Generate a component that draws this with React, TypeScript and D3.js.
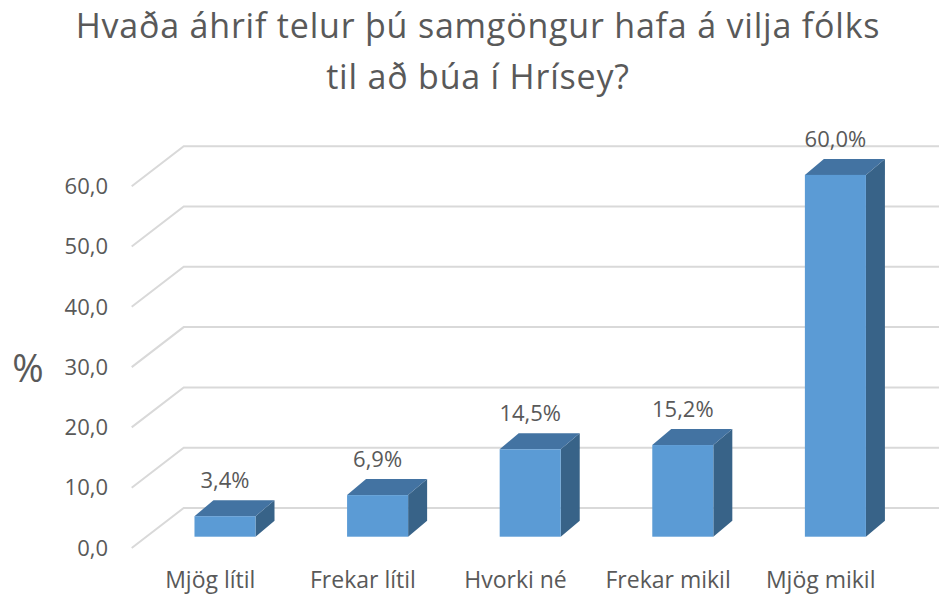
import React from 'react';
import * as d3 from 'd3';

// svör úr könnun, hlutfall í prósentum
const categories = ['Mjög lítil', 'Frekar lítil', 'Hvorki né', 'Frekar mikil', 'Mjög mikil'];
const values = [3.4, 6.9, 14.5, 15.2, 60.0];
const ticks = [0, 10, 20, 30, 40, 50, 60];
const titleLines = ['Hvaða áhrif telur þú samgöngur hafa á vilja fólks', 'til að búa í Hrísey?'];

const W = 939, H = 595;
const TXT = '#595959';
const FONT = "'Open Sans', sans-serif";

// gólf og veggur (gervi-3D)
const floorFront = 548;     // y á framlínu fyrir 0
const plotLeft = 131.7;
const wallDx = 52, wallDy = -40;   // dýpt grindar
const barDx = 19, barDy = -16;     // dýpt súlu
const barShiftX = 14.7, barShiftY = -11.3; // hvar framhlið súlu situr í dýpt

export default function App() {
  const y = d3.scaleLinear().domain([0, 60]).range([floorFront, floorFront - 361.8]);
  const x = d3.scaleBand().domain(categories).range([134, 897]).paddingInner(0.6).paddingOuter(0.3);
  const bw = x.bandwidth();
  const fmt = (v: number) => d3.format('.1f')(v).replace('.', ',');

  return (
    <svg width={W} height={H} style={{ position: 'absolute', left: 0, top: 0, background: '#fff' }}>
      {titleLines.map((t, i) => (
        <text key={t} x={478} y={38 + i * 51} textAnchor="middle" fontFamily={FONT} fontSize={34} letterSpacing={0.8} fill={TXT}>{t}</text>
      ))}

      <text x={28} y={382} textAnchor="middle" fontFamily={FONT} fontSize={38} fill={TXT}>%</text>

      {/* grindarlínur */}
      {ticks.map(t => (
        <g key={t}>
          <path
            d={`M${plotLeft},${y(t)} L${plotLeft + wallDx},${y(t) + wallDy} L${W},${y(t) + wallDy}`}
            fill="none" stroke="#d9d9d9" strokeWidth={2} />
          <text x={108} y={y(t)} dy="0.35em" textAnchor="end" fontFamily={FONT} fontSize={22} fill={TXT}>{fmt(t)}</text>
        </g>
      ))}

      {/* súlur */}
      {categories.map((c, i) => {
        const v = values[i];
        const x0 = (x(c) as number) + barShiftX;
        const x1 = x0 + bw;
        const yb = floorFront + barShiftY;
        const yt = yb - (y(0) - y(v));
        return (
          <g key={c}>
            <path d={`M${x1},${yb} L${x1 + barDx},${yb + barDy} L${x1 + barDx},${yt + barDy} L${x1},${yt} Z`} fill="#386388" />
            <path d={`M${x0},${yt} L${x0 + barDx},${yt + barDy} L${x1 + barDx},${yt + barDy} L${x1},${yt} Z`} fill="#4373a2" />
            <rect x={x0} y={yt} width={bw} height={yb - yt} fill="#5b9bd5" />
            <text x={x0 + bw / 2} y={yt - 28} textAnchor="middle" fontFamily={FONT} fontSize={22} fill={TXT}>{fmt(v) + '%'}</text>
            <text x={(x(c) as number) + bw / 2} y={588} textAnchor="middle" fontFamily={FONT} fontSize={23} fill={TXT}>{c}</text>
          </g>
        );
      })}
    </svg>
  );
}
